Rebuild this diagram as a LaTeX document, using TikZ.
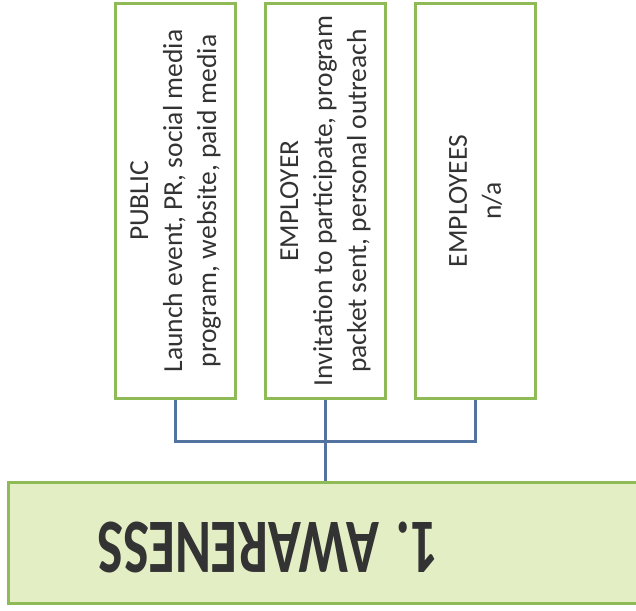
\documentclass[tikz,border=0pt]{standalone}
\usepackage{fontspec}
\setmainfont{Carlito}
\definecolor{boxgreen}{HTML}{8FBB56}
\definecolor{fillgreen}{HTML}{E4EEC4}
\definecolor{connblue}{HTML}{5273A0}
\definecolor{txtgray}{HTML}{333333}
\begin{document}
\begin{tikzpicture}[x=1pt,y=-1pt,
  catbox/.style={draw=boxgreen,line width=3pt,fill=white,minimum width=120pt,minimum height=394pt,inner sep=0pt},
  cattext/.style={rotate=90,align=center,text=txtgray,font=\fontsize{27.5}{34}\selectfont,inner sep=0pt},
  conn/.style={draw=connblue,line width=3pt},
  stagebox/.style={draw=boxgreen,line width=3pt,fill=fillgreen,minimum width=636pt,minimum height=121pt,inner sep=0pt}]
\useasboundingbox (0,0) rectangle (636,610);
\clip (0,0) rectangle (636,610);
\node[stagebox] (aw) at (326,542.5) {};
\node[catbox] (pub) at (175.5,201) {};
\node[catbox] (emp) at (325.5,201) {};
\node[catbox] (emps) at (475.5,201) {};
\coordinate (bus) at (326,441);
\draw[conn] (pub.south) |- (emp.south |- bus) -| (emps.south);
\draw[conn] (emp.south) -- (emp.south |- aw.north);
\node[cattext] (pubt) at (pub.center) {PUBLIC\\Launch event, PR, social media\\program, website, paid media};
\node[cattext] (empt) at (emp.center) {EMPLOYER\\Invitation to participate, program\\packet sent, personal outreach};
\node[cattext] (empst) at (emps.center) {EMPLOYEES\\n/a};
\node[rotate=180,text=txtgray,font=\fontsize{77}{85}\selectfont\bfseries,xscale=0.71,inner sep=0pt] (awt) at (268,547) {1. AWARENESS};
\end{tikzpicture}
\end{document}
